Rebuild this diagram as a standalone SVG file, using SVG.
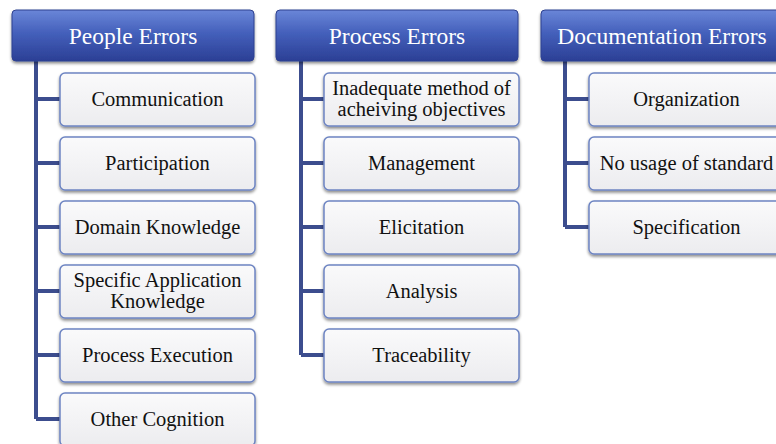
<svg xmlns="http://www.w3.org/2000/svg" width="776" height="444" viewBox="0 0 776 444">
<defs>
<linearGradient id="hg" x1="0" y1="0" x2="0" y2="1">
<stop offset="0" stop-color="#6a86d8"/>
<stop offset="0.45" stop-color="#4460bb"/>
<stop offset="1" stop-color="#2b3f95"/>
</linearGradient>
<linearGradient id="cg" x1="0" y1="0" x2="0" y2="1">
<stop offset="0" stop-color="#fafafb"/>
<stop offset="1" stop-color="#ececef"/>
</linearGradient>
<filter id="sh" x="-10%" y="-10%" width="120%" height="140%">
<feGaussianBlur in="SourceAlpha" stdDeviation="1.6"/>
<feOffset dx="0" dy="2" result="b"/>
<feComponentTransfer><feFuncA type="linear" slope="0.45"/></feComponentTransfer>
<feMerge><feMergeNode/><feMergeNode in="SourceGraphic"/></feMerge>
</filter>
</defs>
<style>
.h{fill:url(#hg);stroke:#2e4190;stroke-width:1;filter:url(#sh)}
.c{fill:url(#cg);stroke:#6d84c2;stroke-width:1.5;filter:url(#sh)}
.ht{font-family:"Liberation Serif","Times New Roman",serif;font-size:23.5px;fill:#ffffff;text-anchor:middle}
.ct{font-family:"Liberation Serif","Times New Roman",serif;font-size:20.5px;fill:#111111;text-anchor:middle}
.ln{fill:none;stroke:#3c4d8e;stroke-width:4}
</style>
<g id="connectors">
<path class="ln" d="M36 61 V419 M36 99 H60 M36 163 H60 M36 227 H60 M36 291 H60 M36 355 H60 M36 419 H60"/>
<path class="ln" d="M301 61 V355 M301 99 H324 M301 163 H324 M301 227 H324 M301 291 H324 M301 355 H324"/>
<path class="ln" d="M565 61 V227 M565 99 H589 M565 163 H589 M565 227 H589"/>
</g>
<g id="people-errors"><rect class="h" x="12" y="10" width="242" height="51" rx="4"/><text class="ht" x="133" y="44">People Errors</text></g>
<g id="communication"><rect class="c" x="60" y="73" width="195" height="53" rx="5"/><text class="ct" x="157.5" y="106">Communication</text></g>
<g id="participation"><rect class="c" x="60" y="137" width="195" height="53" rx="5"/><text class="ct" x="157.5" y="170">Participation</text></g>
<g id="domain-knowledge"><rect class="c" x="60" y="201" width="195" height="53" rx="5"/><text class="ct" x="157.5" y="234">Domain Knowledge</text></g>
<g id="specific-application"><rect class="c" x="60" y="265" width="195" height="53" rx="5"/><text class="ct" x="157.5" y="287">Specific Application</text><text class="ct" x="157.5" y="308">Knowledge</text></g>
<g id="process-execution"><rect class="c" x="60" y="329" width="195" height="53" rx="5"/><text class="ct" x="157.5" y="362">Process Execution</text></g>
<g id="other-cognition"><rect class="c" x="60" y="393" width="195" height="53" rx="5"/><text class="ct" x="157.5" y="426">Other Cognition</text></g>
<g id="process-errors"><rect class="h" x="276" y="10" width="242" height="51" rx="4"/><text class="ht" x="397" y="44">Process Errors</text></g>
<g id="inadequate-method"><rect class="c" x="324" y="73" width="195" height="53" rx="5"/><text class="ct" x="421.5" y="95">Inadequate method of</text><text class="ct" x="421.5" y="116">acheiving objectives</text></g>
<g id="management"><rect class="c" x="324" y="137" width="195" height="53" rx="5"/><text class="ct" x="421.5" y="170">Management</text></g>
<g id="elicitation"><rect class="c" x="324" y="201" width="195" height="53" rx="5"/><text class="ct" x="421.5" y="234">Elicitation</text></g>
<g id="analysis"><rect class="c" x="324" y="265" width="195" height="53" rx="5"/><text class="ct" x="421.5" y="298">Analysis</text></g>
<g id="traceability"><rect class="c" x="324" y="329" width="195" height="53" rx="5"/><text class="ct" x="421.5" y="362">Traceability</text></g>
<g id="documentation-errors"><rect class="h" x="541" y="10" width="242" height="51" rx="4"/><text class="ht" x="662" y="44">Documentation Errors</text></g>
<g id="organization"><rect class="c" x="589" y="73" width="195" height="53" rx="5"/><text class="ct" x="686.5" y="106">Organization</text></g>
<g id="no-usage"><rect class="c" x="589" y="137" width="195" height="53" rx="5"/><text class="ct" x="686.5" y="170">No usage of standard</text></g>
<g id="specification"><rect class="c" x="589" y="201" width="195" height="53" rx="5"/><text class="ct" x="686.5" y="234">Specification</text></g>
</svg>
